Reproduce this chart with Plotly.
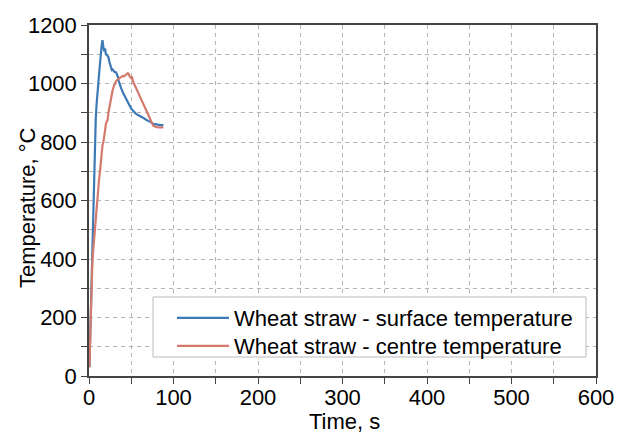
import plotly.graph_objects as go

blue_time = [0.5,1,2,3,4,5,6,7,8,9,10,11,12,13,14,15,16,17,18,19,20,21,22,23,24,25,26,27,28,
             30,32,34,35,36,38,40,42,44,46,48,50,52,55,58,61,64,67,70,73,76,79,82,85,88]
blue_temp = [30,90,237,340,440,560,680,790,880,930,955,1000,1035,1090,1100,1130,1148,1125,1110,1120,
             1100,1098,1092,1090,1075,1065,1050,1046,1048,1040,1038,1025,1010,1000,984,970,960,948,936,
             925,914,906,898,892,888,883,877,873,868,862,860,859,858,858]

red_time = [0.5,1,2,3,4,5,6,7,8,9,10,11,12,13,14,15,16,17,18,19,20,21,22,23,24,25,26,27,28,
            30,32,34,36,38,40,42,44,46,47,48,50,51,52,54,56,58,60,62,64,66,68,70,72,74,76,78,80,84,88]
red_temp = [30,100,200,290,390,430,470,510,545,575,605,640,675,700,735,765,790,800,815,840,
            862,868,875,900,915,935,950,965,978,995,1008,1014,1018,1022,1026,1025,1030,1035,
            1033,1025,1018,1020,1008,995,982,968,955,942,930,918,902,890,876,866,856,853,851,850,850]

series_names = ["Wheat straw - surface temperature", "Wheat straw - centre temperature"]
x_title = "Time, s"
y_title = "Temperature, °C"

x_ticks = list(range(0, 601, 50))
x_labels = [str(v) if v % 100 == 0 else "" for v in x_ticks]
y_ticks = list(range(0, 1201, 100))
y_labels = [str(v) if v % 200 == 0 else "" for v in y_ticks]

FONT = "Arial, Liberation Sans, sans-serif"
FS = 22

fig = go.Figure()
fig.add_trace(go.Scatter(x=blue_time, y=blue_temp, mode="lines", name=series_names[0],
                         line=dict(color="#3d79b5", width=2.2), legend="legend"))
fig.add_trace(go.Scatter(x=red_time, y=red_temp, mode="lines", name=series_names[1],
                         line=dict(color="#d47a6c", width=2.2), legend="legend2"))

axis_common = dict(
    showline=True, linecolor="#444444", linewidth=1.5, mirror=True,
    ticks="outside", ticklen=6, tickwidth=1.2, tickcolor="#444444",
    showgrid=True, gridcolor="#b5b5b5", gridwidth=1, griddash="4px,4px",
    zeroline=False, automargin=False,
    tickfont=dict(family=FONT, size=FS, color="black"),
)

fig.update_xaxes(range=[0, 600], tickmode="array", tickvals=x_ticks, ticktext=x_labels,
                 ticklabelstandoff=-5, **axis_common)
fig.update_yaxes(range=[0, 1200], tickmode="array", tickvals=y_ticks, ticktext=y_labels, **axis_common)

# plot area in pixels: x 89..596, y 25..376
PL, PR, PT, PB = 89, 596, 25, 376
W = PR - PL
H = PB - PT

def px_x(p):
    return (p - PL) / W

def px_y(p):
    return (PB - p) / H

fig.add_shape(type="rect", xref="paper", yref="paper",
              x0=px_x(153), x1=px_x(586), y0=px_y(357), y1=px_y(297),
              line=dict(color="#bbbbbb", width=1), fillcolor="white", layer="above")

fig.add_annotation(text=x_title, xref="paper", yref="paper", x=px_x(344), y=px_y(421),
                   xanchor="center", yanchor="middle", showarrow=False,
                   font=dict(family=FONT, size=FS, color="black"))
fig.add_annotation(text=y_title, xref="paper", yref="paper", x=px_x(28), y=px_y(208),
                   xanchor="center", yanchor="middle", showarrow=False, textangle=-90,
                   font=dict(family=FONT, size=FS, color="black"))

leg_common = dict(xanchor="left", yanchor="middle", bgcolor="rgba(0,0,0,0)", borderwidth=0,
                  font=dict(family=FONT, size=FS, color="black"), itemwidth=52)

fig.update_layout(
    width=623, height=434,
    margin=dict(l=PL, r=623 - PR, t=PT, b=434 - PB),
    paper_bgcolor="white", plot_bgcolor="white",
    font=dict(family=FONT, size=FS, color="black"),
    showlegend=True,
    legend=dict(x=px_x(172), y=px_y(318), **leg_common),
    legend2=dict(x=px_x(172), y=px_y(346), **leg_common),
)

fig.write_html("out.html")
